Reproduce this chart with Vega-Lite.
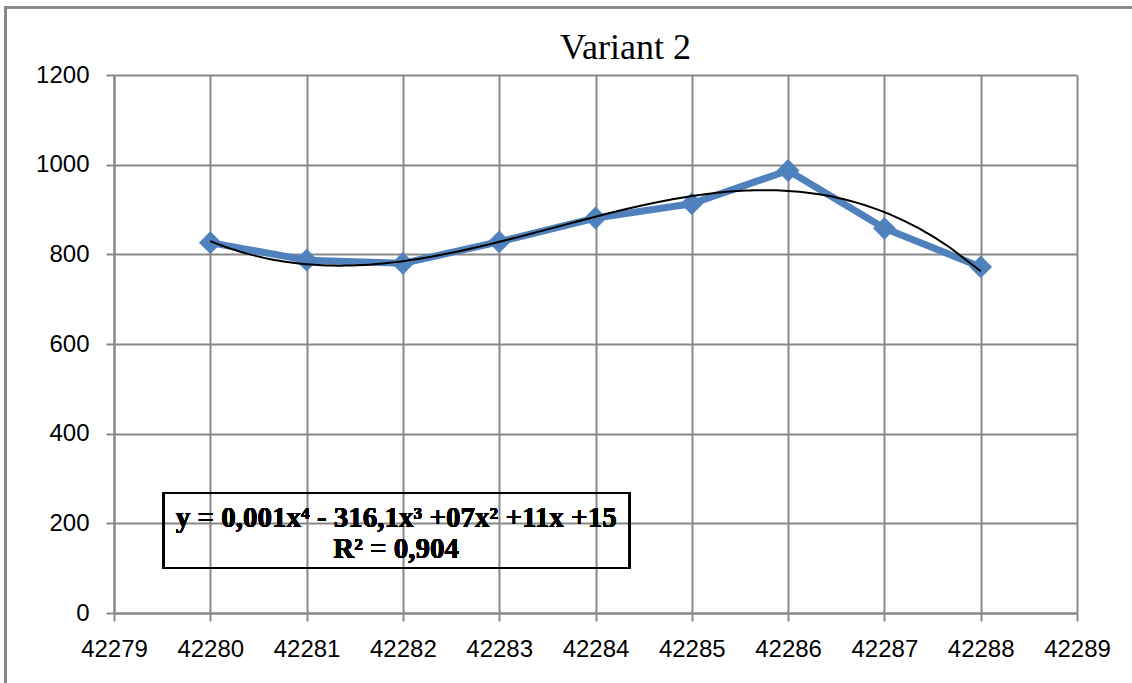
{
  "$schema": "https://vega.github.io/schema/vega-lite/v6.json",
  "autosize": "none",
  "width": 963,
  "height": 538,
  "padding": {"left": 114, "top": 75, "right": 55, "bottom": 70},
  "background": "white",
  "view": {"stroke": null},
  "title": {
    "text": "Variant 2",
    "font": "Liberation Serif",
    "fontSize": 36,
    "fontWeight": "normal",
    "color": "black",
    "anchor": "middle",
    "frame": "group",
    "dx": 30,
    "baseline": "alphabetic",
    "offset": -88.5
  },
  "config": {
    "axis": {
      "gridColor": "#888888",
      "gridWidth": 2,
      "gridOpacity": 1,
      "domainColor": "#888888",
      "domainWidth": 2,
      "tickColor": "#888888",
      "tickWidth": 2,
      "tickSize": 8,
      "labelFont": "Liberation Sans",
      "labelFontSize": 24,
      "labelColor": "black",
      "title": null
    }
  },
  "data": {
    "values": [
      {"date": 42280, "value": 826},
      {"date": 42281, "value": 787},
      {"date": 42282, "value": 780},
      {"date": 42283, "value": 828},
      {"date": 42284, "value": 881},
      {"date": 42285, "value": 913},
      {"date": 42286, "value": 987},
      {"date": 42287, "value": 858},
      {"date": 42288, "value": 772}
    ]
  },
  "encoding": {
    "x": {
      "field": "date",
      "type": "quantitative",
      "scale": {"domain": [42279, 42289], "nice": false, "zero": false},
      "axis": {"values": [42279, 42280, 42281, 42282, 42283, 42284, 42285, 42286, 42287, 42288, 42289], "format": "d", "labelPadding": 16, "labelFlush": false, "labelOverlap": false}
    },
    "y": {
      "field": "value",
      "type": "quantitative",
      "scale": {"domain": [0, 1200], "nice": false},
      "axis": {"values": [0, 200, 400, 600, 800, 1000, 1200], "format": "d", "labelPadding": 17}
    }
  },
  "layer": [
    {
      "mark": {"type": "rect", "fill": null, "stroke": "#888888", "strokeWidth": 2},
      "encoding": {
        "x": {"datum": 42277.875},
        "x2": {"datum": 42291},
        "y": {"datum": 1351},
        "y2": {"datum": -300}
      }
    },
    {
      "mark": {"type": "rect", "fill": null, "stroke": "black", "strokeWidth": 2},
      "encoding": {
        "x": {"datum": 42279.516},
        "x2": {"datum": 42284.355},
        "y": {"datum": 267.7},
        "y2": {"datum": 100.4}
      }
    },
    {
      "mark": {"type": "line", "color": "#4F81BD", "strokeWidth": 7, "strokeJoin": "round"}
    },
    {
      "mark": {"type": "point", "shape": "diamond", "filled": true, "color": "#4F81BD", "size": 520, "opacity": 1}
    },
    {
      "transform": [
        {"regression": "value", "on": "date", "method": "poly", "order": 4, "extent": [42280, 42288]}
      ],
      "mark": {"type": "line", "color": "black", "strokeWidth": 2}
    },
    {
      "mark": {"type": "text", "font": "Liberation Serif", "fontSize": 29, "fontWeight": "bold", "color": "black", "align": "center", "baseline": "alphabetic"},
      "encoding": {
        "x": {"datum": 42281.93},
        "y": {"datum": 192.5},
        "text": {"value": "y = 0,001x⁴ - 316,1x³ +07x² +11x +15"}
      }
    },
    {
      "mark": {"type": "text", "font": "Liberation Serif", "fontSize": 29, "fontWeight": "bold", "color": "black", "align": "center", "baseline": "alphabetic"},
      "encoding": {
        "x": {"datum": 42281.93},
        "y": {"datum": 123.4},
        "text": {"value": "R² = 0,904"}
      }
    }
  ]
}
